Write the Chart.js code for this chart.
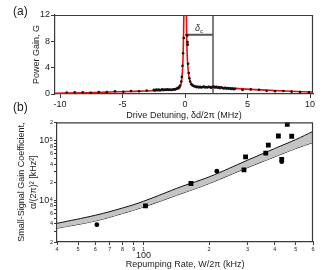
<!DOCTYPE html>
<html><head><meta charset="utf-8">
<script src="https://cdn.jsdelivr.net/npm/chart.js@4.4.1/dist/chart.umd.min.js"></script>
<style>
html,body{margin:0;padding:0;background:#fff;}
#wrap{position:relative;width:325px;height:270px;overflow:hidden;font-family:"Liberation Sans",Arial,sans-serif;}
.pl{position:absolute;left:0;width:325px;}
#pa{top:0;height:124px;}
#pb{top:118px;height:152px;}
.lab{position:absolute;font-size:12px;color:#222;font-family:"Liberation Sans",Arial,sans-serif;}
</style></head><body>
<div id="wrap">
<div class="pl" id="pa"><canvas id="ca"></canvas></div>
<div class="pl" id="pb"><canvas id="cb"></canvas></div>
<div class="lab" style="left:13px;top:4px">(a)</div>
<div class="lab" style="left:13px;top:100px">(b)</div>
</div>
<script>
// ---------- Panel (a) data ----------
const wingDetuning = [-9.46,-8.82,-8.18,-7.55,-6.9,-6.26,-5.6,-4.93,-4.32,-3.68,-3.06,4.6,5.26,5.92,6.53,7.2,7.87,8.53,9.2,9.92];
const wingGain     = [0.22,0.25,0.27,0.2,0.3,0.28,0.42,0.35,0.45,0.42,0.52,0.62,0.7,0.65,0.48,0.42,0.45,0.36,0.3,0.25];
const denseDetuning = [-2.5,-2.4,-2.3,-2.2,-2.1,-2.0,-1.9,-1.8,-1.7,-1.6,-1.5,-1.4,-1.3,-1.2,-1.1,-1.0,-0.9,-0.8,-0.7,-0.6,-0.5,-0.4,-0.3,-0.25,-0.2,-0.15,-0.1,
  0.18,0.2,0.22,0.25,0.3,0.35,0.4,0.5,0.6,0.7,0.8,0.9,1.0,1.1,1.2,1.3,1.4,1.5,1.6,1.7,1.8,1.9,2.0,2.1,2.2,2.3,2.4,2.5,2.6,2.7,2.8,2.9,3.0,3.1,3.2,3.3,3.4,3.5,3.6,3.7,3.8,3.9,4.0];
const denseGain = [0.62,0.55,0.66,0.6,0.68,0.58,0.64,0.7,0.6,0.66,0.62,0.7,0.63,0.68,0.6,0.66,0.72,0.7,0.8,0.9,1.0,1.3,1.9,2.6,4.3,6.2,8.5,
  8.9,7.9,7.5,4.6,3.2,2.4,1.9,1.5,1.3,1.2,1.15,1.05,1.1,1.0,1.08,0.98,1.05,1.12,1.0,1.06,0.98,1.1,1.04,0.95,1.08,1.15,1.0,1.1,0.95,1.05,0.9,1.0,0.92,0.85,0.95,0.82,0.9,0.8,0.88,0.75,0.82,0.72,0.78];
const fitDetuning = [-10.4,-8,-6,-4,-2.5,-1.5,-1,-0.7,-0.5,-0.4,-0.3,-0.2,-0.15,-0.1,-0.05,0,0.05,0.1,0.15,0.2,0.25,0.3,0.4,0.5,0.7,1,1.5,2.5,4,6,8,10.24];
const fitGain     = [0.1,0.2,0.3,0.4,0.5,0.56,0.62,0.7,0.8,1.0,1.7,3.6,6.0,11,22,36,24,13,7.5,5.0,3.8,2.9,2.0,1.6,1.3,1.15,1.08,1.0,0.85,0.62,0.45,0.3];
const deltaC = 2.24;      // MHz, vertical marker
const deltaLevel = 9;     // gain level of the delta_c bar
const aXTicks = [-10,-5,0,5,10];
const aYTicks = [0,4,8,12];

// ---------- Panel (b) data ----------
const rateSquares = [102,165,289,294,364,374,416,431,457,479];
const gainSquares = [8000,19000,32000,53000,61000,83000,118000,48000,185000,117000];
const rateCircles = [61,217,431];
const gainCircles = [3900,30500,44000];
const bandRate  = [40,60,80,100,150,200,300,400,500,600];
const bandUpper = [4100,5600,7400,9600,17000,24500,46500,73000,103000,141000];
const bandLower = [3400,4500,6000,7700,13000,19000,35000,53000,73000,92000];
const bXTicks = [40,50,60,70,80,90,100,200,300,400,500,600];
const bYTicks = [2000,3000,4000,5000,6000,7000,8000,9000,10000,20000,30000,40000,50000,60000,70000,80000,90000,100000,200000];

const FAM = '"Liberation Sans", Arial, sans-serif';
const INK = '#222';
const AX = '#3a3a3a';

const framePlugin = {
  id: 'frame',
  afterDatasetsDraw(chart) {
    const {ctx, chartArea: a} = chart;
    ctx.save();
    ctx.strokeStyle = AX; ctx.lineWidth = 1.2;
    ctx.beginPath();
    ctx.moveTo(a.left, a.top + 0.5);
    ctx.lineTo(a.right - 0.5, a.top + 0.5);
    ctx.lineTo(a.right - 0.5, a.bottom);
    ctx.stroke();
    ctx.restore();
  }
};

const deltaLabel = {
  id: 'deltaLabel',
  afterDatasetsDraw(chart) {
    const {ctx, scales: {x, y}} = chart;
    const cx = x.getPixelForValue(deltaC / 2);
    const cy = y.getPixelForValue(deltaLevel) - 4;
    ctx.save();
    ctx.fillStyle = '#333';
    ctx.textBaseline = 'alphabetic';
    ctx.font = 'italic 9px ' + FAM;
    ctx.fillText('δ', cx - 4, cy);
    ctx.font = '6px ' + FAM;
    ctx.fillText('c', cx + 1, cy + 2);
    ctx.restore();
  }
};

const label100 = {
  id: 'label100',
  afterDraw(chart) {
    const {ctx, scales: {x}} = chart;
    ctx.save();
    ctx.fillStyle = INK;
    ctx.font = '9px ' + FAM;
    ctx.textAlign = 'center';
    ctx.textBaseline = 'middle';
    ctx.fillText('100', x.getPixelForValue(100), x.top + 14);
    ctx.restore();
  }
};

// ---------- Chart (a) ----------
new Chart(document.getElementById('ca'), {
  data: {
    datasets: [
      { type: 'scatter', data: wingDetuning.map((d, i) => ({x: d, y: wingGain[i]})).concat(denseDetuning.map((d, i) => ({x: d, y: denseGain[i]}))),
        pointRadius: 1.3, pointBackgroundColor: '#111', pointBorderWidth: 0, showLine: false, order: 0 },
      { type: 'line', data: fitDetuning.map((d, i) => ({x: d, y: fitGain[i]})),
        borderColor: '#e8100c', borderWidth: 1.6, pointRadius: 0, cubicInterpolationMode: 'monotone', order: 1 },
      { type: 'line', data: [{x: deltaC, y: 0}, {x: deltaC, y: 12}], borderColor: '#555', borderWidth: 1.5, pointRadius: 0, order: 2 },
      { type: 'line', data: [{x: 0, y: deltaLevel}, {x: deltaC, y: deltaLevel}], borderColor: '#555', borderWidth: 2, pointRadius: 0, order: 2 }
    ]
  },
  options: {
    responsive: true, maintainAspectRatio: false, animation: false,
    layout: { padding: { left: 31, right: 12, top: 15, bottom: 0 } },
    plugins: { legend: { display: false }, tooltip: { enabled: false } },
    scales: {
      x: {
        type: 'linear', min: -10.4, max: 10.24,
        afterBuildTicks: s => { s.ticks = aXTicks.map(v => ({value: v})); },
        afterFit: s => { s.height = 30; },
        ticks: { font: { size: 9, family: FAM }, color: INK, padding: 1, maxRotation: 0 },
        grid: { drawOnChartArea: false, tickLength: 4, color: AX },
        border: { color: AX, width: 1.2 },
        title: { display: true, text: 'Drive Detuning, δd/2π (MHz)', font: { size: 9, family: FAM }, color: INK, padding: { top: 0, bottom: 3 } }
      },
      y: {
        type: 'linear', min: 0, max: 12,
        afterBuildTicks: s => { s.ticks = aYTicks.map(v => ({value: v})); },
        afterFit: s => { s.width = 24; },
        ticks: { font: { size: 9, family: FAM }, color: INK, padding: 1 },
        grid: { drawOnChartArea: false, tickLength: 4, color: AX },
        border: { color: AX, width: 1.2 },
        title: { display: true, text: 'Power Gain, G', font: { size: 9, family: FAM }, color: INK, padding: 0 }
      }
    }
  },
  plugins: [framePlugin, deltaLabel]
});

// ---------- Chart (b) ----------
const bigY = v => v === 10000 || v === 100000;
new Chart(document.getElementById('cb'), {
  data: {
    datasets: [
      { type: 'scatter', data: rateSquares.map((r, i) => ({x: r, y: gainSquares[i]})), pointStyle: 'rect', pointRadius: 3.4,
        pointBackgroundColor: '#000', pointBorderWidth: 0, order: 0 },
      { type: 'scatter', data: rateCircles.map((r, i) => ({x: r, y: gainCircles[i]})), pointStyle: 'circle', pointRadius: 2.4,
        pointBackgroundColor: '#000', pointBorderWidth: 0, order: 0 },
      { type: 'line', data: bandRate.map((r, i) => ({x: r, y: bandUpper[i]})), borderColor: '#111', borderWidth: 1,
        pointRadius: 0, tension: 0.4, fill: '+1', backgroundColor: '#c4c4c4', order: 1 },
      { type: 'line', data: bandRate.map((r, i) => ({x: r, y: bandLower[i]})), borderColor: '#111', borderWidth: 1,
        pointRadius: 0, tension: 0.4, fill: false, order: 1 }
    ]
  },
  options: {
    responsive: true, maintainAspectRatio: false, animation: false,
    layout: { padding: { left: 16, right: 12, top: 4, bottom: 0 } },
    plugins: { legend: { display: false }, tooltip: { enabled: false } },
    scales: {
      x: {
        type: 'logarithmic', min: 40, max: 600,
        afterBuildTicks: s => { s.ticks = bXTicks.map(v => ({value: v})); },
        afterFit: s => { s.height = 28; },
        ticks: { font: { size: 5.5, family: FAM }, color: INK, padding: 1, maxRotation: 0, autoSkip: false,
                 callback: v => String(v).charAt(0) },
        grid: { drawOnChartArea: false, tickLength: 3, color: AX },
        border: { color: AX, width: 1.2 },
        title: { display: true, text: 'Repumping Rate, W/2π (kHz)', font: { size: 9, family: FAM }, color: INK, padding: { top: 0, bottom: 0 } }
      },
      y: {
        type: 'logarithmic', min: 2000, max: 200000,
        afterBuildTicks: s => { s.ticks = bYTicks.map(v => ({value: v})); },
        afterFit: s => { s.width = 41; },
        ticks: {
          autoSkip: false, color: INK, padding: 1,
          font: c => ({ size: (c.tick && bigY(c.tick.value)) ? 9 : 5.5, family: FAM }),
          callback: v => {
            if (v === 10000) return '10⁴';
            if (v === 100000) return '10⁵';
            const m = String(v).charAt(0);
            return ['2', '4', '6', '8'].includes(m) ? m : '';
          }
        },
        grid: { drawOnChartArea: false, tickLength: 3, color: AX },
        border: { color: AX, width: 1.2 },
        title: { display: true, text: ['Small-Signal Gain Coefficient,', 'α/(2π)² [kHz²]'],
                 font: { size: 9, family: FAM, lineHeight: 1.3 }, color: INK, padding: 0 }
      }
    }
  },
  plugins: [framePlugin, label100]
});
</script>
</body></html>
